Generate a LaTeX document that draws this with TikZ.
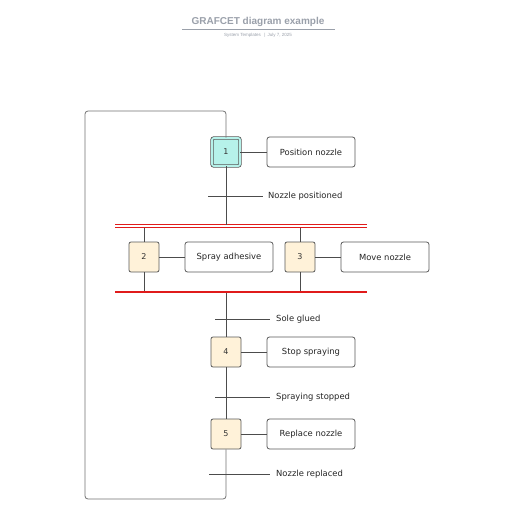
\documentclass[tikz,border=0pt]{standalone}
\usepackage{fontspec}
\setmainfont{DejaVu Sans}
\newfontfamily\titlefont{Liberation Sans}
\begin{document}
\begin{tikzpicture}[x=1pt,y=-1pt,
  line/.style={draw=black!70, line width=0.8pt},
  stepbox/.style={draw=black!65, line width=0.8pt, rounded corners=2pt, minimum width=30pt, minimum height=30pt, inner sep=0pt, fill=stepfill, font=\fontsize{8}{9}\selectfont, text=black!80},
  actbox/.style={draw=black!65, line width=0.8pt, rounded corners=2.5pt, minimum width=88pt, minimum height=30pt, inner sep=0pt, fill=white, font=\fontsize{8.4}{10}\selectfont, text=black!85},
  trlabel/.style={anchor=west, inner sep=0pt, font=\fontsize{8.4}{10}\selectfont, text=black!85},
]
\definecolor{stepfill}{HTML}{FFF2D9}
\definecolor{initfill}{HTML}{B6F2EA}
\definecolor{barred}{HTML}{E01B1B}
\definecolor{titlegrey}{HTML}{9AA0AA}
\useasboundingbox (0,0) rectangle (516,516);
\fill[white] (0,0) rectangle (516,516);
% title
\node[font=\titlefont\bfseries\fontsize{10}{12}\selectfont, text=titlegrey] (title) at (258,22) {GRAFCET diagram example};
\draw[titlegrey, line width=0.6pt] (182,29.5) -- (335,29.5);
\node[font=\titlefont\fontsize{4.5}{5}\selectfont, text=titlegrey] (sub) at (258,35.5) {System Templates \enspace|\enspace July 7, 2025};
% loop line
\coordinate (ltop) at (226,111);
\coordinate (lbot) at (226,499);
% steps
\node[stepbox, fill=initfill, double=initfill, double distance=1.8pt, minimum width=28pt, minimum height=28pt] (s1) at (226,152) {1};
\node[actbox] (a1) at (311,152) {Position nozzle};
\node[stepbox] (s2) at (144,257) {2};
\node[actbox] (a2) at (229,257) {Spray adhesive};
\node[stepbox] (s3) at (300,257) {3};
\node[actbox] (a3) at (385,257) {Move nozzle};
\node[stepbox] (s4) at (226,352) {4};
\node[actbox] (a4) at (311,352) {Stop spraying};
\node[stepbox] (s5) at (226,434) {5};
\node[actbox] (a5) at (311,434) {Replace nozzle};
% bars
\draw[barred, line width=0.9pt] (115,224.8) -- (367,224.8);
\draw[barred, line width=0.9pt] (115,227.6) -- (367,227.6);
\draw[barred, line width=2pt] (115,292) -- (367,292);
% connectors
\draw[line] (s1) -- (a1);
\draw[line] (s2) -- (a2);
\draw[line] (s3) -- (a3);
\draw[line] (s4) -- (a4);
\draw[line] (s5) -- (a5);
\draw[line] (s1.south) -- (226,224.8);
\draw[line] (144,227.6) -- (s2.north);
\draw[line] (300,227.6) -- (s3.north);
\draw[line] (s2.south) -- (144,291);
\draw[line] (s3.south) -- (300,291);
\draw[line] (226,293) -- (s4.north);
\draw[line] (s4) -- (s5);
\draw[draw=black!55, line width=0.8pt, rounded corners=3pt] (s5.south) -- (lbot) -- (85,499) -- (85,111) -- (ltop) -- (s1.north);
% transitions
\draw[line] (208,196) -- (263,196);
\node[trlabel] (t1) at (268,196) {Nozzle positioned};
\draw[line] (215,319) -- (270,319);
\node[trlabel] (t2) at (276,319) {Sole glued};
\draw[line] (215,397) -- (270,397);
\node[trlabel] (t3) at (276,397) {Spraying stopped};
\draw[line] (209,474) -- (270,474);
\node[trlabel] (t4) at (276,474) {Nozzle replaced};
\end{tikzpicture}
\end{document}
